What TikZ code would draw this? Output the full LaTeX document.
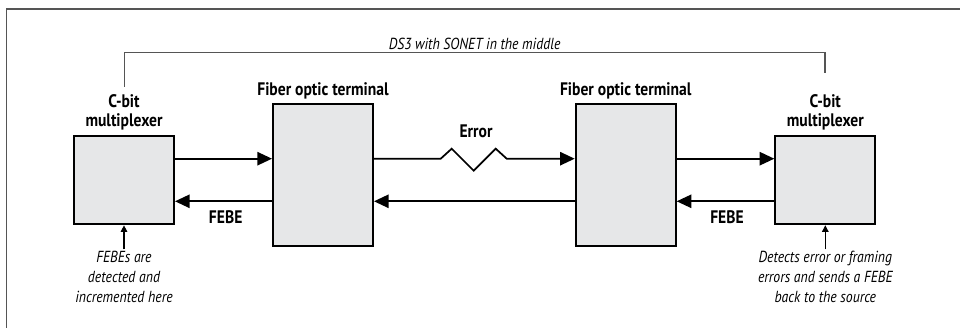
\documentclass[tikz,border=0pt]{standalone}
\usepackage{fontspec}
\setmainfont[FakeStretch=0.86]{PT Sans}
\usetikzlibrary{positioning,arrows.meta,calc}
\definecolor{boxgray}{HTML}{E6E7E8}
\definecolor{framegray}{HTML}{555555}

\tikzset{
  unit/.style={draw, line width=1.5pt, fill=boxgray, inner sep=0pt},
  mux/.style={unit, minimum width=75pt, minimum height=66.5pt},
  fot/.style={unit, minimum width=75pt, minimum height=106.5pt},
  title/.style={font=\fontsize{13.6}{14.5}\selectfont\bfseries, align=center, inner sep=1pt},
  note/.style={font=\fontsize{12}{15}\selectfont\itshape, align=center, inner sep=1pt},
  arr/.style={line width=1.3pt, -{Triangle[length=11pt,width=10pt]}},
  small arr/.style={line width=0.8pt, -{Triangle[length=5pt,width=5pt]}}
}

\begin{document}
\begin{tikzpicture}[x=0.75pt, y=0.75pt]
    \useasboundingbox (0,0) rectangle (960,328);
    % Frame
    \draw[framegray, line width=0.8pt] (6.5,0) -- (6.5,319) -- (960,319);

    % Boxes
    \node[mux] (muxL) at (124,148) {};
    \node[fot] (fotL) at (323,153) {};
    \node[fot] (fotR) at (625.7,153) {};
    \node[mux] (muxR) at (825.3,148) {};

    % Titles
    \node[title, above=2pt of muxL] (tmuxL) {C-bit\\multiplexer};
    \node[title, above=2pt of muxR] (tmuxR) {C-bit\\multiplexer};
    \node[title, above=2pt of fotL] (tfotL) {Fiber optic terminal};
    \node[title, above=2pt of fotR] (tfotR) {Fiber optic terminal};

    % Line levels
    \coordinate (up) at (0,169.3);
    \coordinate (down) at (0,126.7);

    % Forward path
    \draw[arr] (muxL.east |- up) -- (fotL.west |- up);
    \draw[arr] (fotL.east |- up) -- (440.7,169.3) -- ++(11,10) -- ++(22,-22)
        -- ++(22,22) -- ++(11,-10) -- (fotR.west |- up);
    \draw[arr] (fotR.east |- up) -- (muxR.west |- up);
    \node[title] (err) at (476,196.3) {Error};

    % Return path
    \draw[arr] (muxR.west |- down) -- (fotR.east |- down);
    \draw[arr] (fotR.west |- down) -- (fotL.east |- down);
    \draw[arr] (fotL.west |- down) -- (muxL.east |- down);
    \node[title] (febeL) at (225.7,111.3) {FEBE};
    \node[title] (febeR) at (727,111.3) {FEBE};

    % Notes
    \node[note, below=18pt of muxL] (nL) {FEBEs are\\detected and\\incremented here};
    \node[note, below=18pt of muxR] (nR) {Detects error or framing\\errors and sends a FEBE\\back to the source};
    \draw[small arr] (nL.north) -- (muxL.south);
    \draw[small arr] (nR.north) -- (muxR.south);

    % Span bracket
    \coordinate (bL) at (124.3,275.3);
    \coordinate (bR) at (825,275.3);
    \draw[framegray, line width=0.8pt] (bL |- tmuxL.north) ++(0,6) -- (bL) -- (bR) -- ++(0,-20);
    \node[note, font=\fontsize{12}{14}\selectfont\itshape, above=1pt of $(bL)!0.5!(bR)$] (span)
        {DS3 with SONET in the middle};
\end{tikzpicture}
\end{document}
